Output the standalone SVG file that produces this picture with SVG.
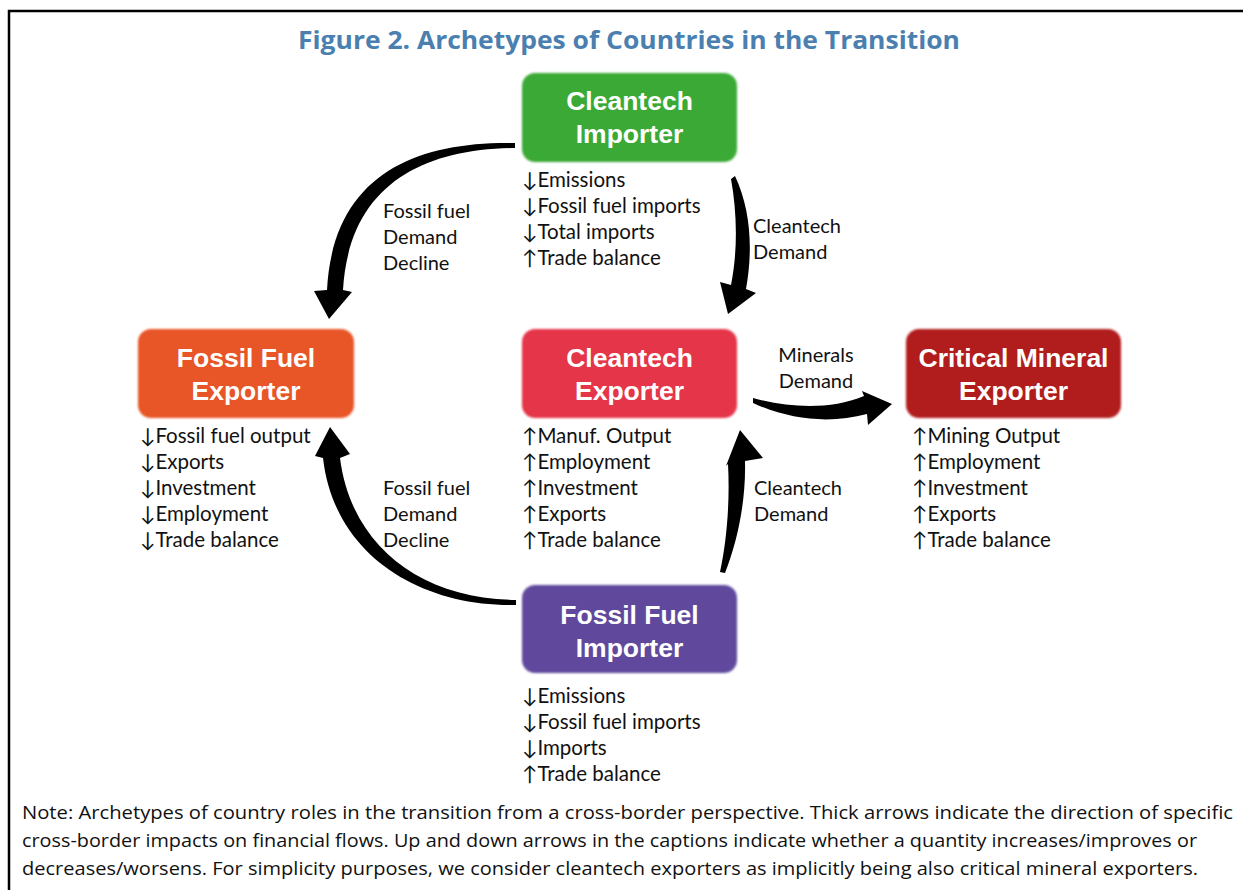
<svg xmlns="http://www.w3.org/2000/svg" width="1243" height="890" viewBox="0 0 1243 890">
<style>
.title{font-family:"Open Sans","Liberation Sans",sans-serif;font-weight:bold;font-size:25px;fill:#4a7fb0;text-anchor:middle}
.nl{font-family:"Liberation Sans",Arial,sans-serif;font-weight:bold;font-size:26.5px;fill:#ffffff;text-anchor:middle}
.cap{font-family:"Lato","Open Sans",sans-serif;font-size:20.5px;fill:#111111}
.al{font-family:"Lato","Open Sans",sans-serif;font-size:20px;fill:#111111}
.note{font-family:"Open Sans","Liberation Sans",sans-serif;font-size:19px;fill:#111111}
.arrow{fill:#000000}
</style>
<defs>
<filter id="soft" x="-5%" y="-5%" width="110%" height="110%"><feGaussianBlur stdDeviation="0.9"/></filter>
</defs>
<rect x="0" y="0" width="1243" height="890" fill="#ffffff"/>
<rect x="9" y="11" width="1250" height="900" fill="none" stroke="#000000" stroke-width="2.5"/>
<text class="title" x="629" y="49" textLength="662" lengthAdjust="spacingAndGlyphs">Figure 2. Archetypes of Countries in the Transition</text>

<g id="cleantech-importer">
<rect x="522" y="73" width="215" height="89" rx="13" fill="#3aa935" filter="url(#soft)"/>
<text class="nl" x="629.5" y="110">Cleantech</text>
<text class="nl" x="629.5" y="143">Importer</text>
<text class="cap" x="522" y="187">↓Emissions</text>
<text class="cap" x="522" y="213">↓Fossil fuel imports</text>
<text class="cap" x="522" y="239">↓Total imports</text>
<text class="cap" x="522" y="265">↑Trade balance</text>
</g>

<g id="fossil-fuel-exporter">
<rect x="138" y="329" width="216" height="89" rx="13" fill="#e85425" filter="url(#soft)"/>
<text class="nl" x="246" y="367">Fossil Fuel</text>
<text class="nl" x="246" y="400">Exporter</text>
<text class="cap" x="140" y="443">↓Fossil fuel output</text>
<text class="cap" x="140" y="469">↓Exports</text>
<text class="cap" x="140" y="495">↓Investment</text>
<text class="cap" x="140" y="521">↓Employment</text>
<text class="cap" x="140" y="547">↓Trade balance</text>
</g>

<g id="cleantech-exporter">
<rect x="522" y="329" width="215" height="89" rx="13" fill="#e5344a" filter="url(#soft)"/>
<text class="nl" x="629.5" y="367">Cleantech</text>
<text class="nl" x="629.5" y="400">Exporter</text>
<text class="cap" x="522" y="443">↑Manuf. Output</text>
<text class="cap" x="522" y="469">↑Employment</text>
<text class="cap" x="522" y="495">↑Investment</text>
<text class="cap" x="522" y="521">↑Exports</text>
<text class="cap" x="522" y="547">↑Trade balance</text>
</g>

<g id="critical-mineral-exporter">
<rect x="906" y="329" width="215" height="89" rx="13" fill="#b11a1f" filter="url(#soft)"/>
<text class="nl" x="1013.5" y="367">Critical Mineral</text>
<text class="nl" x="1013.5" y="400">Exporter</text>
<text class="cap" x="912" y="443">↑Mining Output</text>
<text class="cap" x="912" y="469">↑Employment</text>
<text class="cap" x="912" y="495">↑Investment</text>
<text class="cap" x="912" y="521">↑Exports</text>
<text class="cap" x="912" y="547">↑Trade balance</text>
</g>

<g id="fossil-fuel-importer">
<rect x="522" y="585" width="215" height="88" rx="13" fill="#614a9c" filter="url(#soft)"/>
<text class="nl" x="629.5" y="624">Fossil Fuel</text>
<text class="nl" x="629.5" y="657">Importer</text>
<text class="cap" x="522" y="703">↓Emissions</text>
<text class="cap" x="522" y="729">↓Fossil fuel imports</text>
<text class="cap" x="522" y="755">↓Imports</text>
<text class="cap" x="522" y="781">↑Trade balance</text>
</g>

<g id="connectors">
<path class="arrow" d="M515,143 C415,141 333,175 327,290 L314,291 L329,319 L352,292 L343,290 C349,187 420,149 515,148 Z"/>
<path class="arrow" d="M735,176 C751,210 753,250 746,289 L756,293 L728,314 L720,282 L731,285 C738,250 737,212 731,179 Z"/>
<path class="arrow" d="M753,398 C790,408 830,410 864,396 L862,391 L892,404 L868,425 L867,414 C830,424 790,420 753,403 Z"/>
<path class="arrow" d="M516,605 C420,607 334,555 323,458 L315,456 L330,427 L350,454 L340,458 C351,545 420,599 516,600 Z"/>
<path class="arrow" d="M720,572 C727,540 730,500 728,464 L726,466 L740,430 L763,458 L745,461 C746,500 738,540 725,573 Z"/>
<text class="al" x="383" y="218">Fossil fuel</text>
<text class="al" x="383" y="244">Demand</text>
<text class="al" x="383" y="270">Decline</text>
<text class="al" x="753" y="233">Cleantech</text>
<text class="al" x="753" y="259">Demand</text>
<text class="al" x="816" y="362" text-anchor="middle">Minerals</text>
<text class="al" x="816" y="388" text-anchor="middle">Demand</text>
<text class="al" x="383" y="495">Fossil fuel</text>
<text class="al" x="383" y="521">Demand</text>
<text class="al" x="383" y="547">Decline</text>
<text class="al" x="754" y="495">Cleantech</text>
<text class="al" x="754" y="521">Demand</text>
</g>

<text class="note" x="22" y="819" textLength="1211" lengthAdjust="spacingAndGlyphs">Note: Archetypes of country roles in the transition from a cross-border perspective. Thick arrows indicate the direction of specific</text>
<text class="note" x="22" y="847" textLength="1175" lengthAdjust="spacingAndGlyphs">cross-border impacts on financial flows. Up and down arrows in the captions indicate whether a quantity increases/improves or</text>
<text class="note" x="22" y="875" textLength="1176" lengthAdjust="spacingAndGlyphs">decreases/worsens. For simplicity purposes, we consider cleantech exporters as implicitly being also critical mineral exporters.</text>
</svg>
